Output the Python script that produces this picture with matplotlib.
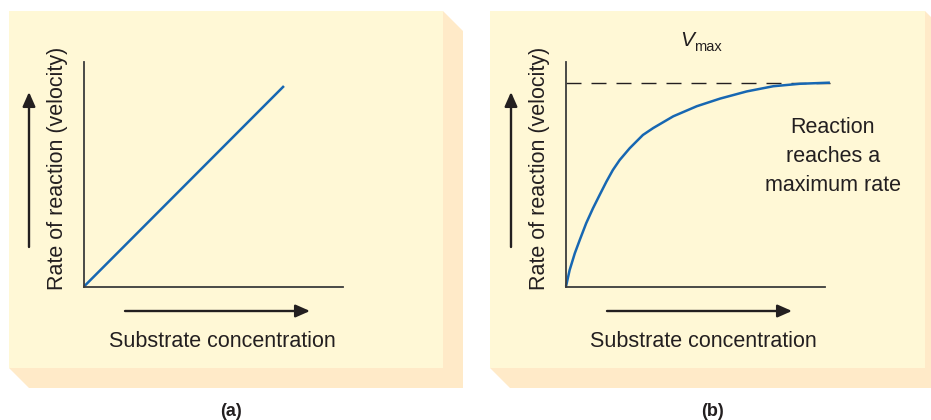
import matplotlib
matplotlib.use("Agg")
import matplotlib.pyplot as plt
from matplotlib.patches import Polygon

plt.rcParams['font.family'] = ['Liberation Sans', 'DejaVu Sans']

# data (arbitrary units, axes run 0..10)
conc_a = [0.0, 7.72]
rate_a = [0.0, 8.93]

conc_b = [0.0, 0.14, 0.34, 0.53, 0.78, 1.04, 1.30, 1.56, 1.81, 2.07, 2.46,
          2.97, 3.37, 4.14, 5.05, 5.95, 6.98, 8.00, 9.03, 10.19]
rate_b = [0.0, 0.73, 1.48, 2.07, 2.82, 3.48, 4.08, 4.67, 5.19, 5.63, 6.16,
          6.75, 7.06, 7.58, 8.03, 8.37, 8.69, 8.92, 9.03, 9.08]
vmax = 9.08

ylabel = "Rate of reaction (velocity)"
xlabel = "Substrate concentration"
note_lines = ["Reaction", "reaches a", "maximum rate"]
captions = ["(a)", "(b)"]

W, H = 931, 420
front = "#fff8d6"
shade = "#ffeac8"
ink = "#231f20"
axis_col = "#3c3c3c"
blue = "#1767b2"

fig = plt.figure(figsize=(W / 100, H / 100), dpi=100)

# background layer in pixel coordinates
bg = fig.add_axes([0, 0, 1, 1])
bg.set_xlim(0, W)
bg.set_ylim(H, 0)
bg.axis("off")

panels = [(9, 443), (490, 925)]
top, bot, d = 11, 368, 20
for x0, x1 in panels:
    bg.add_patch(Polygon([(x1, top), (x1 + d, top + d), (x1 + d, bot + d),
                          (x0 + d, bot + d), (x0, bot)],
                         closed=True, fc=shade, ec="none"))
    bg.add_patch(Polygon([(x0, top), (x1, top), (x1, bot), (x0, bot)],
                         closed=True, fc=front, ec="none"))

fs = 15.5
arrow_kw = dict(arrowstyle="-|>,head_length=0.86,head_width=0.38",
                mutation_scale=10, lw=1.7, color=ink, shrinkA=0, shrinkB=0)

# per panel: y-axis x, y-arrow x, x-arrow start/end, ylabel x, xlabel x
layout = [
    dict(ax=84, yarr=29, xa0=125, xa1=310, ylab=57, xlab=222, cap=231),
    dict(ax=566, yarr=511, xa0=607, xa1=792, ylab=539, xlab=703.5, cap=712.5),
]
for L, cap in zip(layout, captions):
    bg.annotate("", xy=(L["yarr"], 92), xytext=(L["yarr"], 247), arrowprops=arrow_kw)
    bg.annotate("", xy=(L["xa1"], 311), xytext=(L["xa0"], 311), arrowprops=arrow_kw)
    bg.text(L["ylab"], 168, ylabel, rotation=90, ha="center", va="center",
            fontsize=fs, color=ink)
    bg.text(L["xlab"], 347, xlabel, ha="center", va="baseline",
            fontsize=fs, color=ink)
    bg.text(L["cap"], 416, cap, ha="center", va="baseline", fontsize=13,
            fontweight="bold", color=ink)

for txt, yb in zip(note_lines, [133.3, 162.3, 191]):
    bg.text(832.7, yb, txt, ha="center", va="baseline", fontsize=fs, color=ink)

bg.text(680, 46, "V", ha="left", va="baseline", fontsize=15,
        fontstyle="italic", color=ink)
bg.text(694, 51, "max", ha="left", va="baseline", fontsize=10.5, color=ink)

# the two plots
y_top, y_bot, ax_w = 62, 286.5, 259


def make_axes(x_left):
    ax = fig.add_axes([x_left / W, (H - y_bot) / H, ax_w / W, (y_bot - y_top) / H])
    ax.set_xlim(0, 10)
    ax.set_ylim(0, 10)
    ax.patch.set_visible(False)
    for s in ["top", "right"]:
        ax.spines[s].set_visible(False)
    for s in ["left", "bottom"]:
        ax.spines[s].set_color(axis_col)
        ax.spines[s].set_linewidth(1.3)
    ax.set_xticks([])
    ax.set_yticks([])
    return ax


ax_a = make_axes(layout[0]["ax"])
ax_a.plot(conc_a, rate_a, color=blue, lw=1.8, clip_on=False,
          solid_capstyle="butt")

ax_b = make_axes(layout[1]["ax"])
ax_b.plot([0, conc_b[-1]], [vmax, vmax], color=ink, lw=1.0,
          dashes=(10.8, 7.2), clip_on=False)
ax_b.plot(conc_b, rate_b, color=blue, lw=1.8, clip_on=False,
          solid_capstyle="butt", solid_joinstyle="round")

fig.savefig("out.png", dpi=100)
